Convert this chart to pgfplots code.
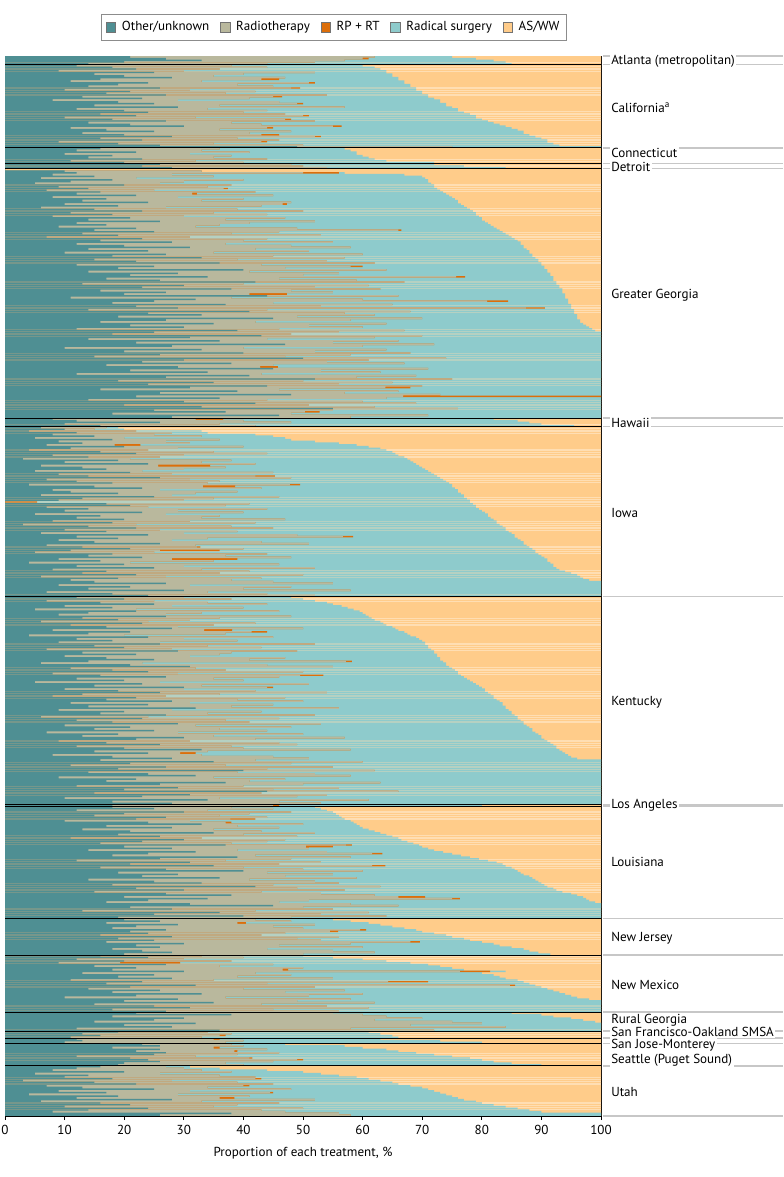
\documentclass[border=0pt]{standalone}
\usepackage{fontspec}
\setmainfont{PT Sans}
\usepackage{pgfplots}
\usepackage{pgfplotstable}
\pgfplotsset{compat=1.18}

\definecolor{cOther}{HTML}{4F8F93}
\definecolor{cRT}{HTML}{B9B89D}
\definecolor{cRPRT}{HTML}{DC6E0A}
\definecolor{cRS}{HTML}{8ECBCC}
\definecolor{cAS}{HTML}{FFCC8A}

% one row per county, cumulative percentages:
% a = end of Other/unknown, b = end of Radiotherapy, c = end of RP+RT, d = end of Radical surgery
\pgfplotstableread{
a b c d
21 62 62 75
27 60 61 79
33 57 57 82
20 52 52 84
14 44 44 85
12 38 38 60
18 44 44 62
22 36 36 63
9 30 30 64
25 52 52 64
15 40 40 65
20 35 35 65
28 47 47 66
16 43 46 66
11 33 33 67
24 51 52 67
19 39 39 68
14 45 45 68
26 48 49.5 69
10 31 31 69
21 42 42 70
17 37 37 70
27 54 54 71
13 45 46.5 71
23 41 41 72
8 29 29 73
19 46 46 73
25 49 50 74
15 36 36 74
29 57 57 75
12 34 34 76
20 44 44 76
24 40 40 77
16 47 47 78
22 50 51 79
10 32 32 79
18 47 48 80
27 52 52 81
14 38 38 82
21 43 43 83
30 55 56.5 84
11 44 45 85
17 36 36 86
25 48 48 87
13 41 41 87
20 43 46 88
28 52 53 89
16 39 39 90
23 46 46 91
9 43 44 91
19 35 35 92
26 50 50 93
49 75 75 100
16 36 36 57
12 33 33 58
22 41 41 59
10 31 31 59
18 38 38 60
14 35 35 61
23 44 44 62
11 32 32 64
20 40 40 72
26 48 48 72
23 50 50 77
28 54 54 84
0 0 0 0
10 33 33 33
12 50 56 57
8 28 28 67
15 35 35 70
6 22 22 70.5
18 40 40 71
11 30 30 71
5 26 26 71.5
20 38 38 72
9 34 34 72
14 36.7 37.4 72.5
7 25 25 73
16 42 42 73.5
12 31.4 32.2 74
22 45 45 74.5
8 29 29 75
17 40 40 75.5
13 33 33 76
24 48 48 76
10 46.6 47.3 76.5
19 43 43 77
6 27 27 77.5
15 39 39 78
23 50 50 78.5
11 35 35 79
18 44 44 79
8 30 30 79.5
21 47 47 80
14 37 37 80
26 52 52 80.5
12 41 41 81
17 36 36 81.5
9 32 32 82
22 49 49 82.5
15 66 66.5 83
25 46 46 83.5
13 38 38 84
19 53 53 84.5
7 31 31 85
23 44 44 85.5
16 40 40 86
28 55 55 86.5
12 37 37 86.5
20 48 48 87
31 58 58 87
14 42 42 87.5
24 51 51 88
10 35 35 88
27 60 60 88.5
18 45 45 88.5
33 57 57 89
15 39 39 89.5
22 54 54 89.5
36 62 62 90
12 43 43 90
25 58 60 90.5
19 47 47 90.5
40 64 64 91
14 41 41 91
29 56 56 91.5
21 50 50 91.5
34 75.7 77.2 92
17 46 46 92
26 59 59 92
42 67 67 92.5
13 40 40 92.5
30 61 61 93
23 52 52 93
38 63 63 93.5
16 48 48 93.5
27 55 55 93.5
20 41 47.3 94
44 66 66 94
11 38 38 94
32 60 60 94.5
25 80.9 84.4 94.5
18 45 45 94.5
37 65 65 95
22 53 53 95
29 87.4 90.6 95
14 44 44 95.5
41 68 68 95.5
24 57 57 95.5
33 62 62 96
19 49 49 96
45 70 70 96
27 58 58 96.5
16 42 42 96.5
35 64 64 97
21 51 51 97.5
30 60 60 98
12 46 46 98.5
39 67 67 99
25 56 56 100
18 48 48 100
43 70 70 100
31 62 62 100
14 44 44 100
36 66 66 100
22 55 55 100
47 72 72 100
28 60 60 100
10 40 40 100
33 64 64 100
20 52 52 100
40 68 68 100
26 58 58 100
15 47 47 100
50 74 74 100
30 61 61 100
23 54 54 100
38 67 67 100
17 45 45 100
29 42.8 45.8 100
45 71 71 100
21 53 53 100
34 63 63 100
12 43 43 100
41 69 69 100
27 59 59 100
52 75 75 100
19 50 50 100
35 65 65 100
24 56 56 100
44 70 70 100
31 63.8 68 100
16 46 46 100
39 66 66 100
26 57 57 100
48 73 73 100
22 66.8 100 100
36 64 64 100
14 44 44 100
30 60 60 100
42 69 69 100
20 51 51 100
33 62 62 100
55 76 76 100
25 55 55 100
37 50.3 52.8 100
18 48 48 100
46 71 71 100
28 58 58 100
8 32 36.6 82
12 40 40 86
26 48 48 88
10 36 36 90
16 42 42 95.5
6 17 17 19
10 15 15 20
4 22 22 33
12 28 28 34
8 25 25 42
15 33 33 45
5 20 20 47
18 36 36 48
9 27 27 52
13 31 31 56
7 18.4 22.7 59
20 40 40 61
11 29 29 63
4 24 24 64
16 35 35 65
22 44 44 65.5
8 30 30 66
14 26 26 67
3 21 21 67.5
19 38 38 68
10 33 33 68.5
24 42 42 69
6 25.7 34.4 69.5
13 37 37 70
17 30 30 70.5
5 23 23 71
21 45 45 71.5
9 28 28 72
14 42 45.3 72.5
26 48 48 73
7 31 31 73.5
12 36 36 74
18 34 34 74.5
4 47.8 49.5 75
15 33.2 38.6 75
23 43 43 75.5
8 26 26 76
11 39 39 76
19 32 32 76.5
6 28 28 77
25 46 46 77
13 35 35 77.5
9 30 30 78
0 0 5.4 78
17 41 41 78.5
21 37 37 79
7 24 24 79
14 44 44 79.5
10 29 29 80
23 40 40 80.5
5 27 27 81
16 36 36 81
12 33 33 81.5
20 47 47 82
8 31 31 82.5
18 42 42 82.5
3 22 22 83
14 38 38 83.5
22 45 45 84
10 26 26 84
17 39 39 84.5
6 30 30 85
24 49 49 85.5
12 56.7 58.4 85.5
19 34 34 86
9 28 28 86.5
15 43 43 87
26 51 51 87
7 32 32 87.5
13 32.2 32.8 88
21 40 40 88.5
11 26 36 89
5 25 25 89
18 44 44 89.5
14 37 37 90
23 48 48 90.5
9 28 39 91
16 35 35 91
4 21 21 91.5
20 46 46 92
12 30 30 92
25 52 52 92.5
8 33 33 93
17 41 41 94
13 36 36 95
22 50 50 96
6 27 27 96.5
19 43 43 97
11 38 38 98
15 45 45 100
27 55 55 100
9 31 31 100
21 48 48 100
14 40 40 100
30 58 58 100
7 34 34 100
18 44 44 100
24 52 52 100
12 30 30 48
20 38 38 50
7 25 25 52
16 34 34 54
25 44 44 55
10 28 28 56.5
18 40 40 57.5
5 22 22 58.5
22 46 46 59.5
14 33 33 60
9 27 27 60.5
27 48 48 61
13 36 36 61.5
19 31 31 62
6 24 24 63
23 42 42 63.5
11 35 35 64
17 29 29 65
28 50 50 65.5
8 33.4 38.1 66
21 41.4 44 67
14 37 37 67.5
4 20 20 68
24 45 45 69
12 30 30 69.5
18 39 39 70
9 26 26 70.5
26 52 52 70.5
15 34 34 71
20 43 43 71
7 28 28 71.5
29 49 49 72
13 38 38 72
22 36 36 72.5
10 31 31 72.5
17 47 47 73
25 41 41 73
14 57.2 58.2 73.5
6 23 23 74
21 44 44 74
31 55 55 74.5
11 32 32 75
18 37 37 75.5
24 50 50 76
8 29 29 76
16 49.5 53.4 76.5
27 46 46 77
12 35 35 77.5
20 40 40 78
5 26 26 78.5
23 51 51 79
15 33 33 79.5
30 44 45 80
10 30 30 80.5
19 42 42 80.5
26 54 54 81
13 36 36 81.5
8 27 27 82
22 47 47 82
17 39 39 82.5
28 50 50 83
11 31 31 83.5
24 45 45 83.5
14 38 38 84
32 56 56 84
9 28 28 84.5
20 43 43 85
16 34 34 85
27 52 52 85.5
6 24 24 86
23 46 46 86
12 37 37 86.5
18 41 41 87
29 53 53 87
10 32 32 87.5
21 48 48 88
15 36 36 88.5
25 44 44 88.5
7 29 29 89
19 50 50 89.5
13 35 35 90
30 57 57 90
22 42 42 90.5
9 31 31 91
17 46 46 91.5
26 49 49 92
12 38 38 92.5
20 40 40 92.5
33 58 58 93
15 34 34 93.5
24 29.4 32 94
8 33 33 94.5
18 45 45 95
28 51 51 96
16 42 42 100
35 60 60 100
21 48 48 100
11 37 37 100
27 55 55 100
19 44 44 100
40 62 62 100
14 39 39 100
24 52 52 100
32 58 58 100
9 35 35 100
22 47 47 100
17 41 41 100
37 63 63 100
26 50 50 100
12 40 40 100
29 56 56 100
20 45 45 100
44 66 66 100
15 43 43 100
31 54 54 100
23 49 49 100
10 36 36 100
34 61 61 100
18 46 46 100
28 53 53 100
18 45 46 80
18 38 38 52
25 45 45 53
12 34 34 54
30 48 48 55
20 41 41 55.5
15 36 36 56
27 44 44 56.5
22 37.8 42 57
10 31 31 58
24 37 38 58.5
33 50 50 59
17 39 39 59.5
28 46 46 60
13 35 35 61
21 43 43 62
35 52 52 63
19 40 40 64
26 49 49 65
11 33 33 66
30 47 47 66.5
23 44 44 67.5
16 38 38 68.5
37 57.2 58.2 69.5
20 50.5 55 70
28 51 51 71
14 39 39 72
32 54 54 73.5
24 61.6 63.3 75
18 42 42 76.5
39 58 58 78
26 48 48 79.5
12 37 37 81
31 53 53 82.5
21 46 46 83.5
35 61.6 63.8 84
16 40 40 85
27 50 50 85.5
40 60 60 86
19 44 44 86.5
29 55 55 87
23 47 47 88
36 59 59 88.5
14 41 41 89
25 52 52 89.5
33 56 56 90
18 45 45 90.5
42 63 63 91
22 49 49 92
30 57 57 92.5
15 43 43 93.5
27 53 53 95
38 62 62 96
20 66 70.5 97
34 75 76.3 97.5
24 51 51 98
17 46 46 99
31 58 58 100
45 66 66 100
21 50 50 100
28 55 55 100
13 42 42 100
36 61 61 100
25 53 53 100
40 64 64 100
19 48 48 100
20 42 42 55
26 48 48 58
17 39 40.4 61
29 52 52 63
22 45 45 65
18 50 50 67
27 59.6 60.6 69
21 54.5 55.9 70
24 47 47 72
16 43 43 74
28 56 56 75
19 49 49 77
25 53 53 78
17 68 69.6 80
30 58 58 82
22 46 46 83
26 60 60 85
18 44 44 87
23 55 55 88
28 62 62 89.5
20 50 50 91.5
16 33 33 50
24 40 40 55
12 30 30 60
20 38 38 64
9 19.3 29.4 68
27 45 45 71
15 36 36 73
22 50 50 75
18 46.6 47.5 77
30 76.3 81.4 84
13 42 42 80
25 48 48 82
19 39 39 83
28 55 55 84
11 35 35 86
23 64.3 71 87
17 44 44 88
32 84.7 85.6 89
21 52 52 90
14 40 40 91
26 57 57 92
18 47 47 93
33 60 60 94
22 51 51 95
10 37 37 96
29 58 58 98
20 49 49 100
35 62 62 100
15 43 43 100
25 54 54 100
31 61 61 100
18 45 45 100
27 56 56 100
22 55 55 85
38 60 60 90
18 64 64 92
30 70 70 95
25 62 62 97
15 75 75 99
32 80 80 100
20 68 68 100
28 84 84 100
12 58 58 100
36 72 72 100
19 34 34 61
13 38 38 63
16 36 37 65
11 33 33 66
12 35 36 63
13 40 40 73
10 37 37 80
23 38 38 47
26 40 40 57
18 35 36 60
26 44 44 64
22 38.5 39 66
27 46 46 69
25 39 39 72
12 32 32 75
21 41 41.5 78
24 49 50 80
26 45 45 82
20 37 37 85
19 40 40 90
16 27 27 31
12 30 30 36
8 33 33 44
20 38 38 50
5 26 26 53
14 36 36 56
10 42 42 59
18 42 43 61
3 28 28 63
15 39 39 65
22 45 45 66
7 40 41 68
13 34 34 70
25 48 48 71
9 31 31 72
17 44.5 45 73
4 29 29 74
19 41 41 75
12 36 38.5 76
28 52 52 77
6 33 33 79
16 46 46 80
21 39 39 82
10 35 35 84
24 50 50 86
14 43 43 88
8 47 47 90
38 56 56 100
26 58 58 100
}\counties

\newcommand{\lblfont}{\fontsize{9.8}{11}\selectfont}

\begin{document}
\begin{tikzpicture}
\path[use as bounding box] (-3.75pt,-45.75pt) rectangle (583.5pt,837pt);
\begin{axis}[
    at={(0,0)}, anchor=south west,
    scale only axis, width=447pt, height=795pt,
    xmin=0, xmax=100, ymin=0, ymax=612, y dir=reverse,
    xtick={0,10,...,100}, ytick=\empty,
    tick align=outside, xtick pos=bottom, major tick length=3pt,
    tick style={black, line width=0.5pt},
    axis line style={black, line width=0.6pt},
    /pgf/number format/assume math mode=true,
    tick label style={font=\lblfont},
    xlabel={Proportion of each treatment, \%},
    xlabel style={font=\lblfont, yshift=-3pt},
    clip=false,
    legend columns=5,
    legend image code/.code={\draw[#1, draw=black!55, line width=0.4pt] (0pt,-3.6pt) rectangle (7.2pt,3.6pt);},
    legend style={at={(0.552,1)}, anchor=south, yshift=11.5pt,
        draw=black!45, line width=0.5pt, font=\lblfont,
        inner xsep=3pt, inner ysep=3.6pt,
        /tikz/every odd column/.append style={column sep=2.5pt},
        /tikz/every even column/.append style={column sep=6pt}},
]
\addlegendimage{fill=cOther}
\addlegendimage{fill=cRT}
\addlegendimage{fill=cRPRT}
\addlegendimage{fill=cRS}
\addlegendimage{fill=cAS}

\addplot[xbar, bar shift=0pt, bar width=0.8, draw=none, fill=cAS] table[x expr=100, y expr=\coordindex+0.5] {\counties};
\addplot[xbar, bar shift=0pt, bar width=0.8, draw=none, fill=cRS] table[x=d, y expr=\coordindex+0.5] {\counties};
\addplot[xbar, bar shift=0pt, bar width=0.8, draw=none, fill=cRPRT] table[x=c, y expr=\coordindex+0.5] {\counties};
\addplot[xbar, bar shift=0pt, bar width=0.8, draw=none, fill=cRT] table[x=b, y expr=\coordindex+0.5] {\counties};
\addplot[xbar, bar shift=0pt, bar width=0.8, draw=none, fill=cOther] table[x=a, y expr=\coordindex+0.5] {\counties};

\legend{Other/unknown, Radiotherapy, RP + RT, Radical surgery, AS/WW}

% registry separators
\pgfplotsinvokeforeach{5,53,62,65,209,214,312,432,433,498,519,552,563,567,570,583}{
  \draw[black, line width=0.6pt] (axis cs:0,#1) -- (axis cs:100,#1);
}
\pgfplotsinvokeforeach{0,5,53,62,65,209,214,312,432,433,498,519,552,563,567,570,583,612}{
  \draw[black!22, line width=1.1pt] (axis cs:100,#1) ++(1.5pt,0) -- ++(135pt,0);
}

\tikzset{reg/.style={anchor=west, fill=white, inner xsep=1.2pt, inner ysep=0.8pt, font=\lblfont, xshift=6.3pt}}
\node[reg] at (axis cs:100,2.9) {Atlanta (metropolitan)};
\node[reg] at (axis cs:100,30) {California\textsuperscript{a}};
\node[reg] at (axis cs:100,56) {Connecticut};
\node[reg] at (axis cs:100,64.1) {Detroit};
\node[reg] at (axis cs:100,138) {Greater Georgia};
\node[reg] at (axis cs:100,211.9) {Hawaii};
\node[reg] at (axis cs:100,263.9) {Iowa};
\node[reg] at (axis cs:100,373) {Kentucky};
\node[reg] at (axis cs:100,432.4) {Los Angeles};
\node[reg] at (axis cs:100,465.4) {Louisiana};
\node[reg] at (axis cs:100,509.2) {New Jersey};
\node[reg] at (axis cs:100,536.4) {New Mexico};
\node[reg] at (axis cs:100,556.6) {Rural Georgia};
\node[reg] at (axis cs:100,563.5) {San Francisco-Oakland SMSA};
\node[reg] at (axis cs:100,571) {San Jose-Monterey};
\node[reg] at (axis cs:100,579.7) {Seattle (Puget Sound)};
\node[reg] at (axis cs:100,598.2) {Utah};
\end{axis}
\end{tikzpicture}
\end{document}
